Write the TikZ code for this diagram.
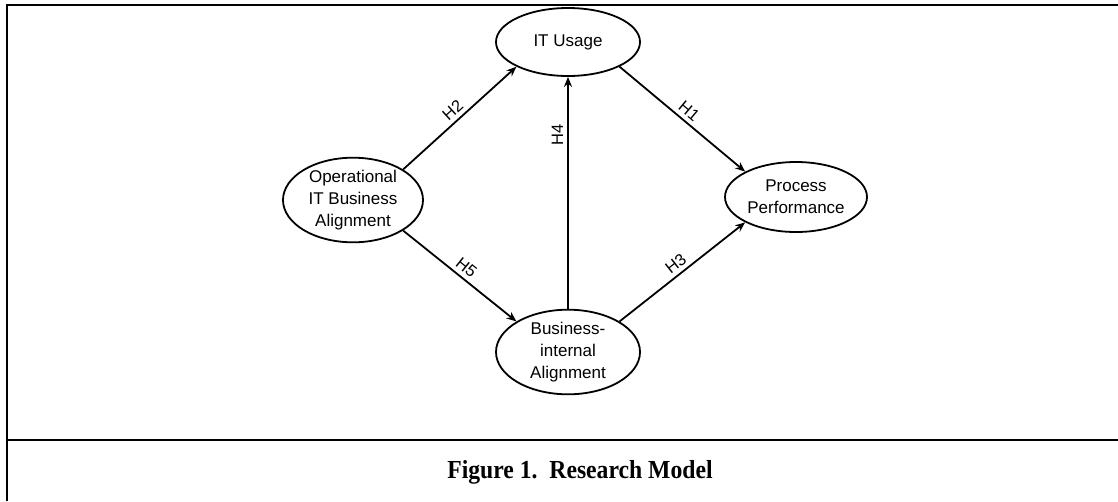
\documentclass[tikz,border=0pt]{standalone}
\usepackage{fontspec}
\setmainfont{Liberation Sans}
\newfontfamily\capfont{Liberation Serif}
\usetikzlibrary{shapes.geometric,arrows.meta}
\tikzset{
  construct/.style={ellipse, draw, line width=1.8pt, inner sep=0pt, minimum width=144pt, minimum height=68pt, align=center, font=\fontsize{17}{22}\selectfont},
  path/.style={line width=1.8pt, -{Stealth[length=10pt,width=8pt]}},
  hlabel/.style={sloped, above, inner sep=4pt, font=\fontsize{16.5}{18}\selectfont},
  frame/.style={line width=2.2pt}
}
\begin{document}
\begin{tikzpicture}[x=1pt,y=-1pt]
\useasboundingbox (0,0) rectangle (1118,501);
\coordinate (tl) at (7,5);
\coordinate (tr) at (1118,5);
\coordinate (bl) at (7,501);
\coordinate (sl) at (7,440);
\coordinate (sr) at (1118,440);
\draw[frame] (bl) -- (tl) -- (tr);
\draw[frame] (sl) -- (sr);

\node[construct] (it) at (568,42) {IT Usage};
\node[construct, minimum width=140pt, minimum height=66pt] (op) at (353,200) {Operational\\IT Business\\Alignment};
\node[construct, minimum width=142pt, minimum height=70pt] (pp) at (796,197) {Process\\Performance};
\node[construct, minimum width=144pt, minimum height=66pt] (bi) at (568,352) {Business-\\internal\\Alignment};

\draw[path] (op.north east) -- node[hlabel] {H2} (it.south west);
\draw[path] (it.south east) -- node[hlabel] {H1} (pp.north west);
\draw[path] (bi.north) -- node[hlabel, pos=0.75] {H4} (it.south);
\draw[path] (op.south east) -- node[hlabel] {H5} (bi.north west);
\draw[path] (bi.north east) -- node[hlabel] {H3} (pp.south west);

\node[font=\capfont\bfseries\fontsize{26}{30}\selectfont] (cap) at (580,472) {\scalebox{0.91}[1]{Figure 1.\ \ Research Model}};
\end{tikzpicture}
\end{document}
